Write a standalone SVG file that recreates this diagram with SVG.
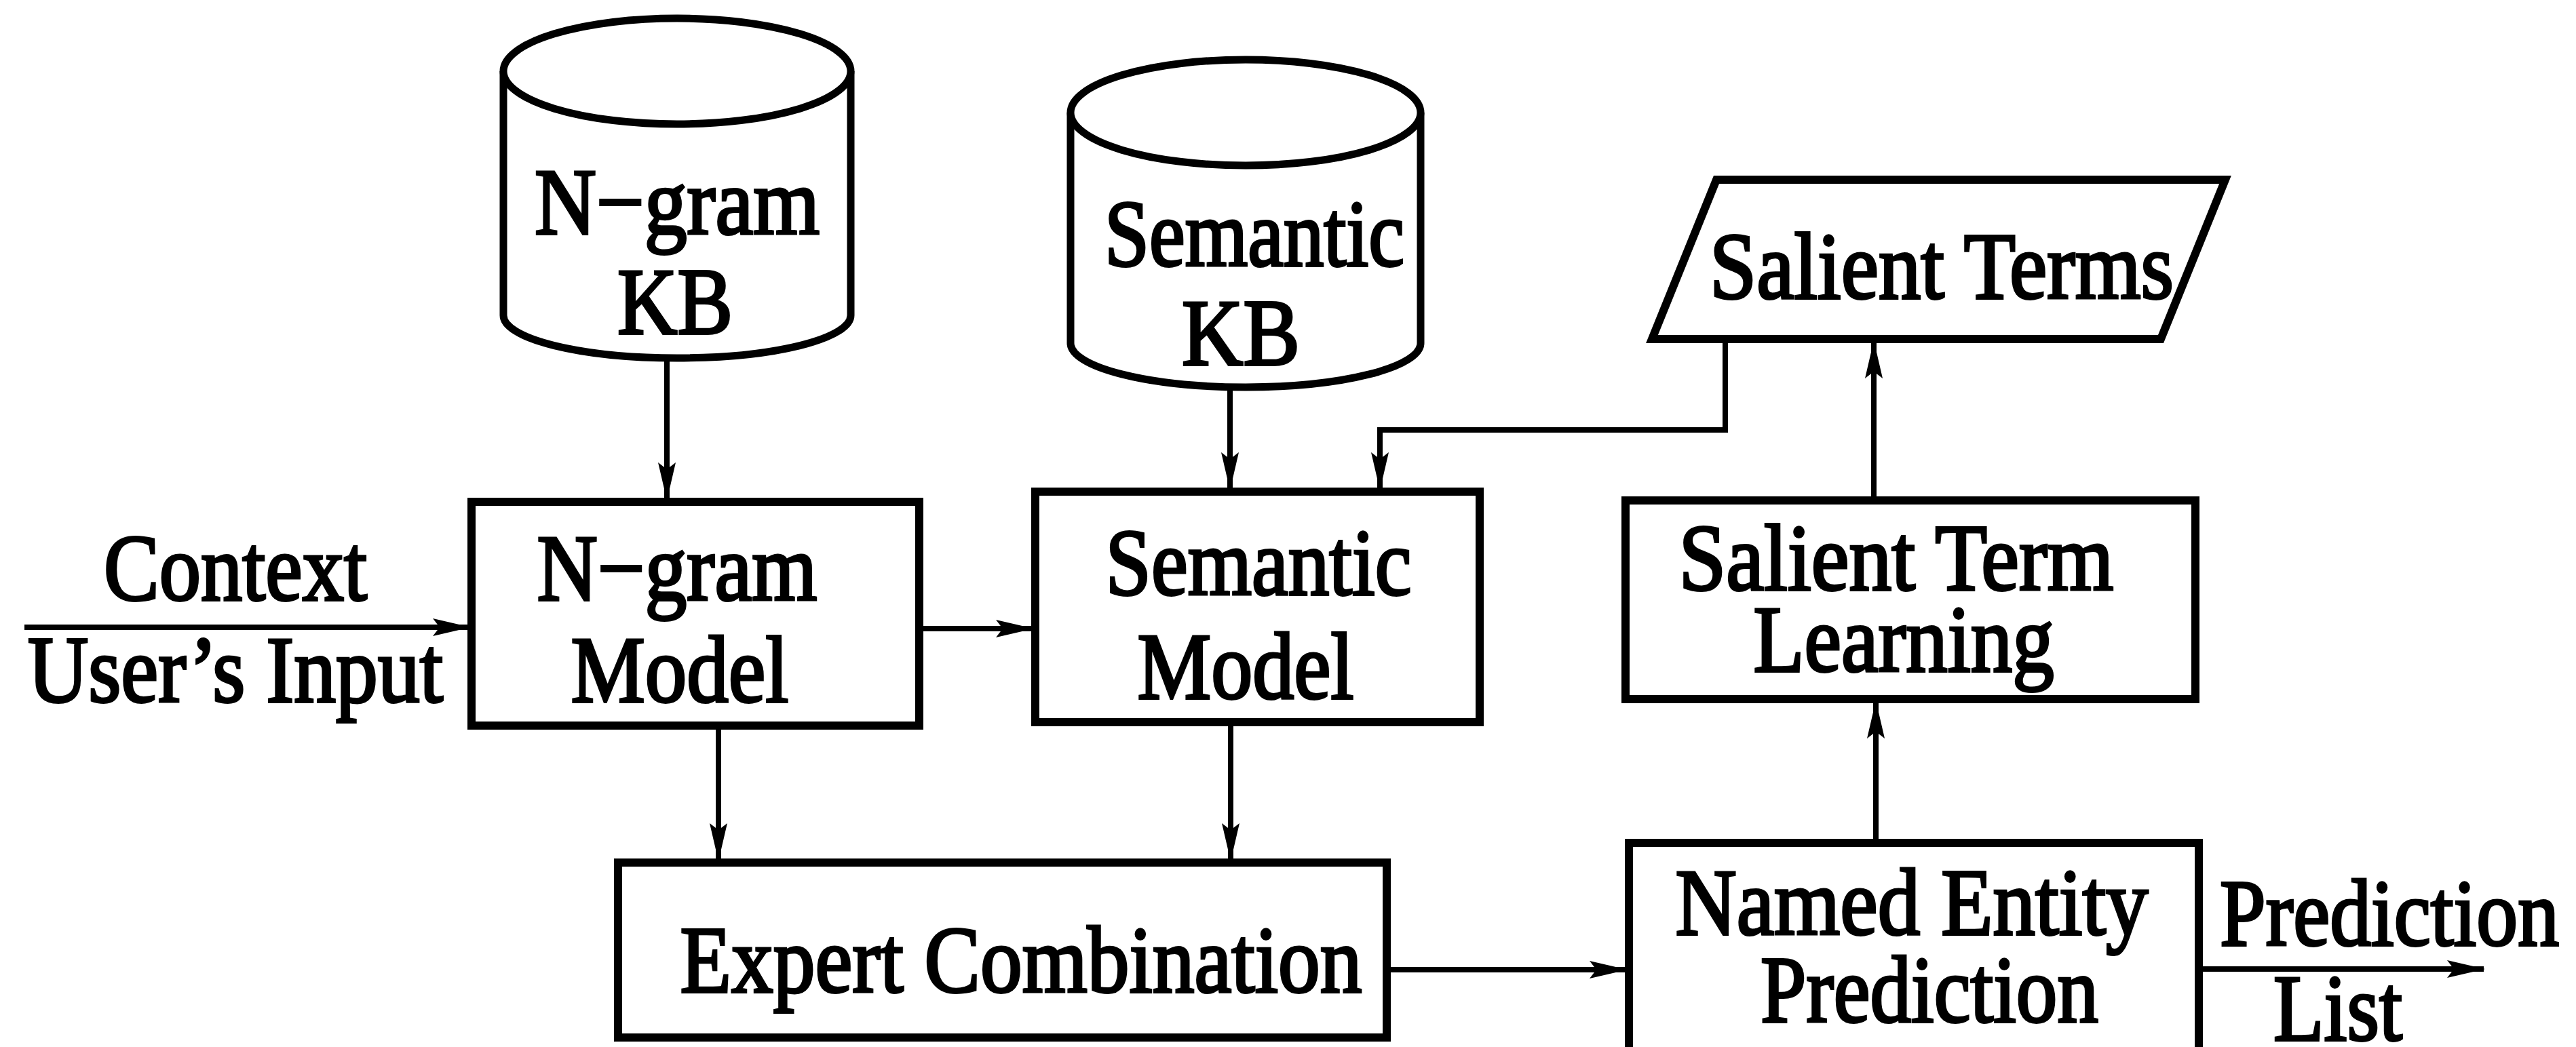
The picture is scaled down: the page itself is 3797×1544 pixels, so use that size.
<svg xmlns="http://www.w3.org/2000/svg" width="3797" height="1544" viewBox="0 0 3797 1544">
<style>
.box{fill:#fff;stroke:#000;stroke-width:12}
.cyl{fill:#fff;stroke:#000;stroke-width:11}
.t{font-family:"Liberation Serif","Times New Roman",serif;font-size:140px;fill:#000;stroke:#000;stroke-width:4;text-anchor:middle}
.c{fill:none;stroke:#000;stroke-width:8}
</style>
<defs>
<marker id="ah" markerUnits="userSpaceOnUse" markerWidth="56" markerHeight="30" refX="54" refY="15" orient="auto">
<path d="M0,2 L56,15 L0,28 L10,15 Z" fill="#000"/>
</marker>
</defs>
<rect width="3797" height="1544" fill="#fff"/>

<g id="connectors">
<line class="c" x1="36" y1="925" x2="692" y2="925" marker-end="url(#ah)"/>
<line class="c" x1="983" y1="528" x2="983" y2="736" marker-end="url(#ah)"/>
<line class="c" x1="1813" y1="571" x2="1813" y2="721" marker-end="url(#ah)"/>
<polyline class="c" points="2543,500 2543,634 2034,634 2034,721" marker-end="url(#ah)"/>
<line class="c" x1="1355" y1="927" x2="1522" y2="927" marker-end="url(#ah)"/>
<line class="c" x1="1059" y1="1070" x2="1059" y2="1268" marker-end="url(#ah)"/>
<line class="c" x1="1814" y1="1065" x2="1814" y2="1268" marker-end="url(#ah)"/>
<line class="c" x1="2044" y1="1430" x2="2397" y2="1430" marker-end="url(#ah)"/>
<line class="c" x1="2765" y1="1243" x2="2765" y2="1035" marker-end="url(#ah)"/>
<line class="c" x1="2762" y1="738" x2="2762" y2="504" marker-end="url(#ah)"/>
<line class="c" x1="3241" y1="1429" x2="3661" y2="1429" marker-end="url(#ah)"/>
</g>

<g id="ngram-kb">
<path class="cyl" d="M742,105 L742,465 A256,63 0 0 0 1254,465 L1254,105"/>
<ellipse class="cyl" cx="998" cy="105" rx="256" ry="78"/>
<text class="t" x="998" y="345" textLength="420" lengthAdjust="spacingAndGlyphs">N−gram</text>
<text class="t" x="995" y="492" textLength="170" lengthAdjust="spacingAndGlyphs">KB</text>
</g>

<g id="semantic-kb">
<path class="cyl" d="M1578,166 L1578,506 A258,65 0 0 0 2094,506 L2094,166"/>
<ellipse class="cyl" cx="1836" cy="166" rx="258" ry="78"/>
<text class="t" x="1849" y="392" textLength="442" lengthAdjust="spacingAndGlyphs">Semantic</text>
<text class="t" x="1829" y="538" textLength="174" lengthAdjust="spacingAndGlyphs">KB</text>
</g>

<g id="salient-terms">
<polygon class="box" points="2530,265 3280,265 3185,500 2435,500"/>
<text class="t" x="2862" y="440" textLength="684" lengthAdjust="spacingAndGlyphs">Salient Terms</text>
</g>

<g id="context-label">
<text class="t" x="347" y="885" textLength="388" lengthAdjust="spacingAndGlyphs">Context</text>
<text class="t" x="347" y="1035" textLength="612" lengthAdjust="spacingAndGlyphs">User’s Input</text>
</g>

<g id="ngram-model">
<rect class="box" x="695" y="740" width="660" height="330"/>
<text class="t" x="998" y="885" textLength="413" lengthAdjust="spacingAndGlyphs">N−gram</text>
<text class="t" x="1002" y="1035" textLength="321" lengthAdjust="spacingAndGlyphs">Model</text>
</g>

<g id="semantic-model">
<rect class="box" x="1526" y="725" width="655" height="340"/>
<text class="t" x="1855" y="877" textLength="451" lengthAdjust="spacingAndGlyphs">Semantic</text>
<text class="t" x="1836" y="1030" textLength="319" lengthAdjust="spacingAndGlyphs">Model</text>
</g>

<g id="salient-term-learning">
<rect class="box" x="2396" y="738" width="840" height="293"/>
<text class="t" x="2795" y="870" textLength="641" lengthAdjust="spacingAndGlyphs">Salient Term</text>
<text class="t" x="2806" y="990" textLength="443" lengthAdjust="spacingAndGlyphs">Learning</text>
</g>

<g id="expert-combination">
<rect class="box" x="911" y="1272" width="1133" height="258"/>
<text class="t" x="1505" y="1463" textLength="1005" lengthAdjust="spacingAndGlyphs">Expert Combination</text>
</g>

<g id="named-entity-prediction">
<rect class="box" x="2401" y="1243" width="840" height="330"/>
<text class="t" x="2818" y="1378" textLength="697" lengthAdjust="spacingAndGlyphs">Named Entity</text>
<text class="t" x="2844" y="1507" textLength="498" lengthAdjust="spacingAndGlyphs">Prediction</text>
</g>

<g id="prediction-list-label">
<text class="t" x="3522" y="1394" textLength="500" lengthAdjust="spacingAndGlyphs">Prediction</text>
<text class="t" x="3446" y="1534" textLength="190" lengthAdjust="spacingAndGlyphs">List</text>
</g>
</svg>
